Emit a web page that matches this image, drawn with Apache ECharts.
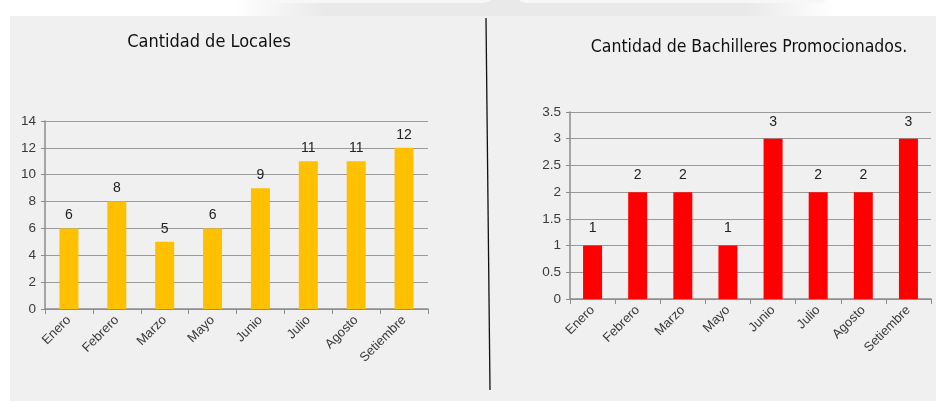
<!DOCTYPE html>
<html>
<head>
<meta charset="utf-8">
<script src="https://cdn.jsdelivr.net/npm/echarts@6/dist/echarts.min.js"></script>
<style>
  html, body { margin: 0; padding: 0; background: #ffffff; }
  #wrap { position: relative; width: 936px; height: 401px; overflow: hidden; }
  #panel { position: absolute; left: 10px; top: 16px; width: 926px; height: 385px; background: #f0f0f0; }
  #chart { position: absolute; left: 0; top: 0; width: 936px; height: 401px; }
</style>
</head>
<body>
<div id="wrap">
  <div id="panel"></div>
  <div id="chart"></div>
</div>
<script>
const categories = ['Enero', 'Febrero', 'Marzo', 'Mayo', 'Junio', 'Julio', 'Agosto', 'Setiembre'];
const localesValues = [6, 8, 5, 6, 9, 11, 11, 12];
const bachilleresValues = [1, 2, 2, 1, 3, 2, 2, 3];
const leftTitle = 'Cantidad de Locales';
const rightTitle = 'Cantidad de Bachilleres Promocionados.';

const chart = echarts.init(document.getElementById('chart'), null, { renderer: 'canvas' });

const labelFont = 'Liberation Sans';
const axisText = { color: '#3a3a3a', fontFamily: labelFont, fontSize: 13 };
const titleFont = { color: '#111', fontFamily: 'DejaVu Sans Condensed', fontSize: 18, fontWeight: 'normal' };

function xAxisFor(gi) {
  return {
    type: 'category', gridIndex: gi, data: categories,
    axisLine: { lineStyle: { color: '#8c8c8c', width: 1.5 } },
    axisTick: { show: true, length: 5, lineStyle: { color: '#8c8c8c' } },
    axisLabel: Object.assign({ rotate: 45, margin: 9, interval: 0 }, axisText)
  };
}
function yAxisFor(gi, max, interval) {
  return {
    type: 'value', gridIndex: gi, min: 0, max: max, interval: interval,
    axisLine: { show: true, lineStyle: { color: '#8c8c8c', width: 1.5 } },
    axisTick: { show: true, length: 4, lineStyle: { color: '#8c8c8c' } },
    axisLabel: Object.assign({ margin: 9 }, axisText, { fontSize: 13.5 }),
    splitLine: { show: true, lineStyle: { color: '#9a9a9a', width: 1.2 } }
  };
}

chart.setOption({
  backgroundColor: 'transparent',
  animation: false,
  title: [
    { text: leftTitle, left: 204, top: 28, textAlign: 'center', textStyle: titleFont },
    { text: rightTitle, left: 744, top: 33, textAlign: 'center', textStyle: Object.assign({}, titleFont, { fontSize: 17.5 }) }
  ],
  grid: [
    { left: 45, right: 508, top: 121, bottom: 92 },
    { left: 570, right: 5, top: 112, bottom: 102 }
  ],
  xAxis: [xAxisFor(0), xAxisFor(1)],
  yAxis: [yAxisFor(0, 14, 2), yAxisFor(1, 3.5, 0.5)],
  series: [
    {
      type: 'bar', xAxisIndex: 0, yAxisIndex: 0, data: localesValues,
      barWidth: 19, itemStyle: { color: '#ffc000' },
      label: { show: true, position: 'top', distance: 6, color: '#222', fontFamily: labelFont, fontSize: 14 }
    },
    {
      type: 'bar', xAxisIndex: 1, yAxisIndex: 1, data: bachilleresValues,
      barWidth: 19, itemStyle: { color: '#ff0000' },
      label: { show: true, position: 'top', distance: 10, color: '#222', fontFamily: labelFont, fontSize: 14 }
    }
  ],
  graphic: [
    { type: 'line', shape: { x1: 486, y1: 18, x2: 490, y2: 390 }, style: { stroke: '#111', lineWidth: 1.3 } },
    { type: 'rect', shape: { x: 235, y: 0, width: 600, height: 16 },
      style: { fill: new echarts.graphic.LinearGradient(0, 0, 1, 0, [
        { offset: 0, color: '#ffffff' }, { offset: 0.15, color: '#e9e9e9' },
        { offset: 0.85, color: '#e9e9e9' }, { offset: 1, color: '#ffffff' }]) }, z: -1 },
    { type: 'rect', shape: { x: 255, y: -20, width: 240, height: 23, r: 12 }, style: { fill: '#f7f7f7' }, z: -1 },
    { type: 'rect', shape: { x: 515, y: -20, width: 315, height: 23, r: 12 }, style: { fill: '#f7f7f7' }, z: -1 }
  ]
});
</script>
</body>
</html>
